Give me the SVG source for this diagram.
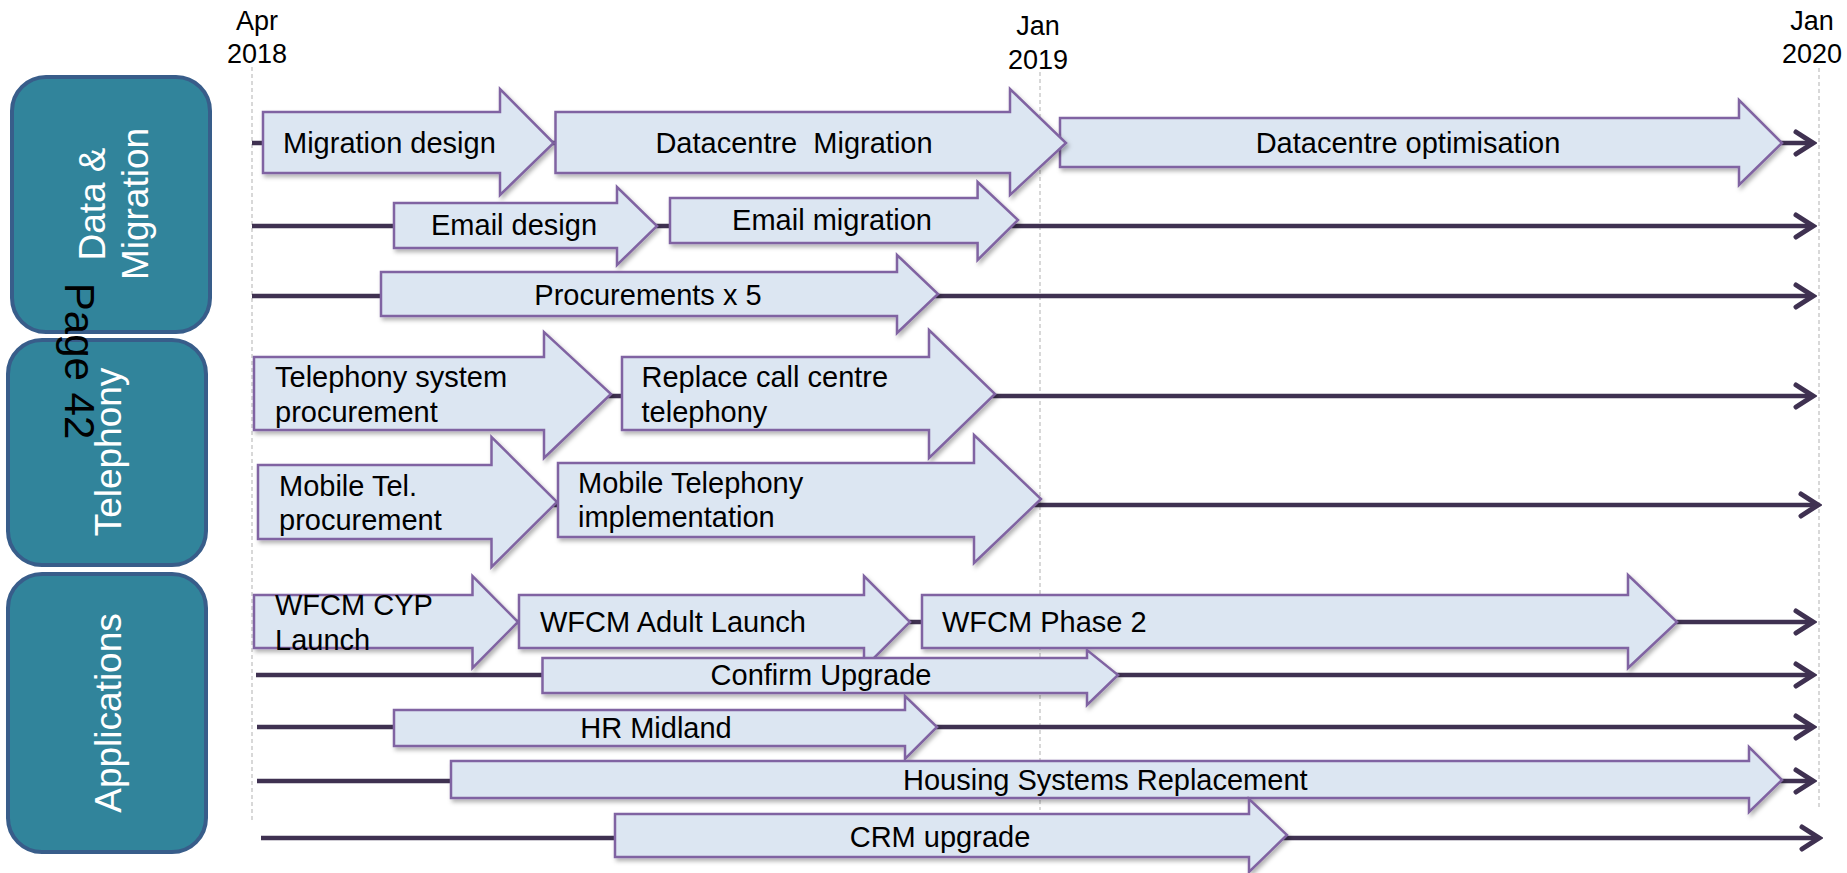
<svg xmlns="http://www.w3.org/2000/svg" width="1847" height="873" viewBox="0 0 1847 873">
<style>
.lbl{font-family:"Liberation Sans",Arial,sans-serif;font-size:29px;fill:#000}
.date{font-family:"Liberation Sans",Arial,sans-serif;font-size:27px;fill:#000;text-anchor:middle}
.side{font-family:"Liberation Sans",Arial,sans-serif;font-size:37px;fill:#fff;text-anchor:middle}
.box{fill:#31849b;stroke:#385d8a;stroke-width:4}
.arr{fill:#dce6f2;stroke:#8064a2;stroke-width:2.5;stroke-linejoin:miter;filter:url(#sh)}
.tl{stroke:#3f3151;stroke-width:4.5;fill:none;marker-end:url(#chev)}
.grid{stroke:#bfbfbf;stroke-width:1.2;stroke-dasharray:4 3;fill:none}
.mid{text-anchor:middle}
</style>
<defs>
<filter id="sh" x="-5%" y="-20%" width="110%" height="150%">
<feDropShadow dx="2" dy="3" stdDeviation="2" flood-color="#000" flood-opacity="0.3"/>
</filter>
<marker id="chev" markerUnits="userSpaceOnUse" viewBox="-22 -15 26 30" refX="0" refY="0" markerWidth="26" markerHeight="30" orient="auto">
<path d="M-17,-11 L0,0 L-17,11" fill="none" stroke="#3f3151" stroke-width="5" stroke-linecap="round" stroke-linejoin="miter"/>
</marker>
</defs>
<rect width="1847" height="873" fill="#fff"/>
<g id="grid">
<line class="grid" x1="252" y1="67" x2="252" y2="823"/>
<line class="grid" x1="1040" y1="72" x2="1040" y2="810"/>
<line class="grid" x1="1819" y1="68" x2="1819" y2="810"/>
</g>
<g id="dates">
<text class="date" x="257" y="30">Apr</text><text class="date" x="257" y="63">2018</text>
<text class="date" x="1038" y="35">Jan</text><text class="date" x="1038" y="69">2019</text>
<text class="date" x="1812" y="30">Jan</text><text class="date" x="1812" y="63">2020</text>
</g>
<g id="cat-data">
<rect class="box" x="12" y="77" width="198" height="255" rx="34"/>
<text class="side" transform="translate(105,204) rotate(-90)">Data &amp;</text>
<text class="side" transform="translate(148,204) rotate(-90)">Migration</text>
</g>
<g id="cat-telephony">
<rect class="box" x="8" y="340" width="198" height="225" rx="34"/>
<text class="side" transform="translate(121,452) rotate(-90)">Telephony</text>
</g>
<g id="cat-applications">
<rect class="box" x="8" y="574" width="198" height="278" rx="34"/>
<text class="side" transform="translate(121,713) rotate(-90)">Applications</text>
</g>
<text id="page" transform="translate(65,361) rotate(90)" style="font-family:'Liberation Sans',Arial,sans-serif;font-size:42px;fill:#000;text-anchor:middle">Page 42</text>
<g id="connectors">
<line class="tl" x1="252" y1="143" x2="1813" y2="143"/>
<line class="tl" x1="252" y1="226" x2="1813" y2="226"/>
<line class="tl" x1="252" y1="296" x2="1813" y2="296"/>
<line class="tl" x1="254" y1="396" x2="1813" y2="396"/>
<line class="tl" x1="258" y1="505" x2="1818" y2="505"/>
<line class="tl" x1="254" y1="622" x2="1813" y2="622"/>
<line class="tl" x1="256" y1="675" x2="1813" y2="675"/>
<line class="tl" x1="257" y1="727" x2="1813" y2="727"/>
<line class="tl" x1="257" y1="781" x2="1813" y2="781"/>
<line class="tl" x1="261" y1="838" x2="1819" y2="838"/>
</g>
<g id="dc-optimisation">
<polygon class="arr" points="1060,118 1739,118 1739,100 1782,143 1739,185 1739,167 1060,167"/>
<text class="lbl mid" x="1408" y="153">Datacentre optimisation</text>
</g>
<g id="migration-design">
<polygon class="arr" points="263,112 500,112 500,89 553.6,143 500,195 500,173 263,173"/>
<text class="lbl" x="283" y="153">Migration design</text>
</g>
<g id="dc-migration">
<polygon class="arr" points="555.5,112 1010,112 1010,89 1066,143 1010,195 1010,173 555.5,173"/>
<text class="lbl mid" x="794" y="153" xml:space="preserve">Datacentre  Migration</text>
</g>
<g id="email-design">
<polygon class="arr" points="394,203 617,203 617,187 657,226 617,265 617,248 394,248"/>
<text class="lbl" x="431" y="235">Email design</text>
</g>
<g id="email-migration">
<polygon class="arr" points="670,198 977.6,198 977.6,182 1018,220 977.6,260 977.6,243 670,243"/>
<text class="lbl mid" x="832" y="230">Email migration</text>
</g>
<g id="procurements">
<polygon class="arr" points="381,272 897,272 897,255 938,294 897,333 897,316 381,316"/>
<text class="lbl mid" x="648" y="305">Procurements x 5</text>
</g>
<g id="telephony-system">
<polygon class="arr" points="254,357 544,357 544,332 611,394 544,458 544,430 254,430"/>
<text class="lbl" x="275" y="387">Telephony system</text>
<text class="lbl" x="275" y="422">procurement</text>
</g>
<g id="replace-call-centre">
<polygon class="arr" points="622,357 929,357 929,330 995,394 929,458 929,430 622,430"/>
<text class="lbl" x="641.5" y="387">Replace call centre</text>
<text class="lbl" x="641.5" y="422">telephony</text>
</g>
<g id="mobile-tel-procurement">
<polygon class="arr" points="258,465 491.5,465 491.5,437 557,502 491.5,567 491.5,539 258,539"/>
<text class="lbl" x="279" y="496">Mobile Tel.</text>
<text class="lbl" x="279" y="530">procurement</text>
</g>
<g id="mobile-telephony-impl">
<polygon class="arr" points="558,463 974,463 974,435 1041,499 974,563 974,537 558,537"/>
<text class="lbl" x="578" y="493">Mobile Telephony</text>
<text class="lbl" x="578" y="527">implementation</text>
</g>
<g id="wfcm-cyp">
<polygon class="arr" points="254,595 472.5,595 472.5,576 518,622 472.5,668 472.5,648 254,648"/>
<text class="lbl" x="275" y="615">WFCM CYP</text>
<text class="lbl" x="275" y="650">Launch</text>
</g>
<g id="wfcm-adult">
<polygon class="arr" points="519,595 864,595 864,576 910,622 864,668 864,648 519,648"/>
<text class="lbl" x="540" y="632">WFCM Adult Launch</text>
</g>
<g id="wfcm-phase2">
<polygon class="arr" points="922,595 1628,595 1628,575 1677,622 1628,668 1628,648 922,648"/>
<text class="lbl" x="942" y="632">WFCM Phase 2</text>
</g>
<g id="confirm-upgrade">
<polygon class="arr" points="542.5,658 1087,658 1087,650 1118,675 1087,705 1087,693 542.5,693"/>
<text class="lbl mid" x="821" y="685">Confirm Upgrade</text>
</g>
<g id="hr-midland">
<polygon class="arr" points="394,710 905,710 905,696 937,727 905,759 905,746 394,746"/>
<text class="lbl mid" x="656" y="738">HR Midland</text>
</g>
<g id="housing">
<polygon class="arr" points="451,761 1749,761 1749,747 1782,780 1749,812 1749,798 451,798"/>
<text class="lbl" x="903" y="790">Housing Systems Replacement</text>
</g>
<g id="crm-upgrade">
<polygon class="arr" points="615,814 1249,814 1249,799 1287,835 1249,872 1249,857 615,857"/>
<text class="lbl mid" x="940" y="847">CRM upgrade</text>
</g>
</svg>
